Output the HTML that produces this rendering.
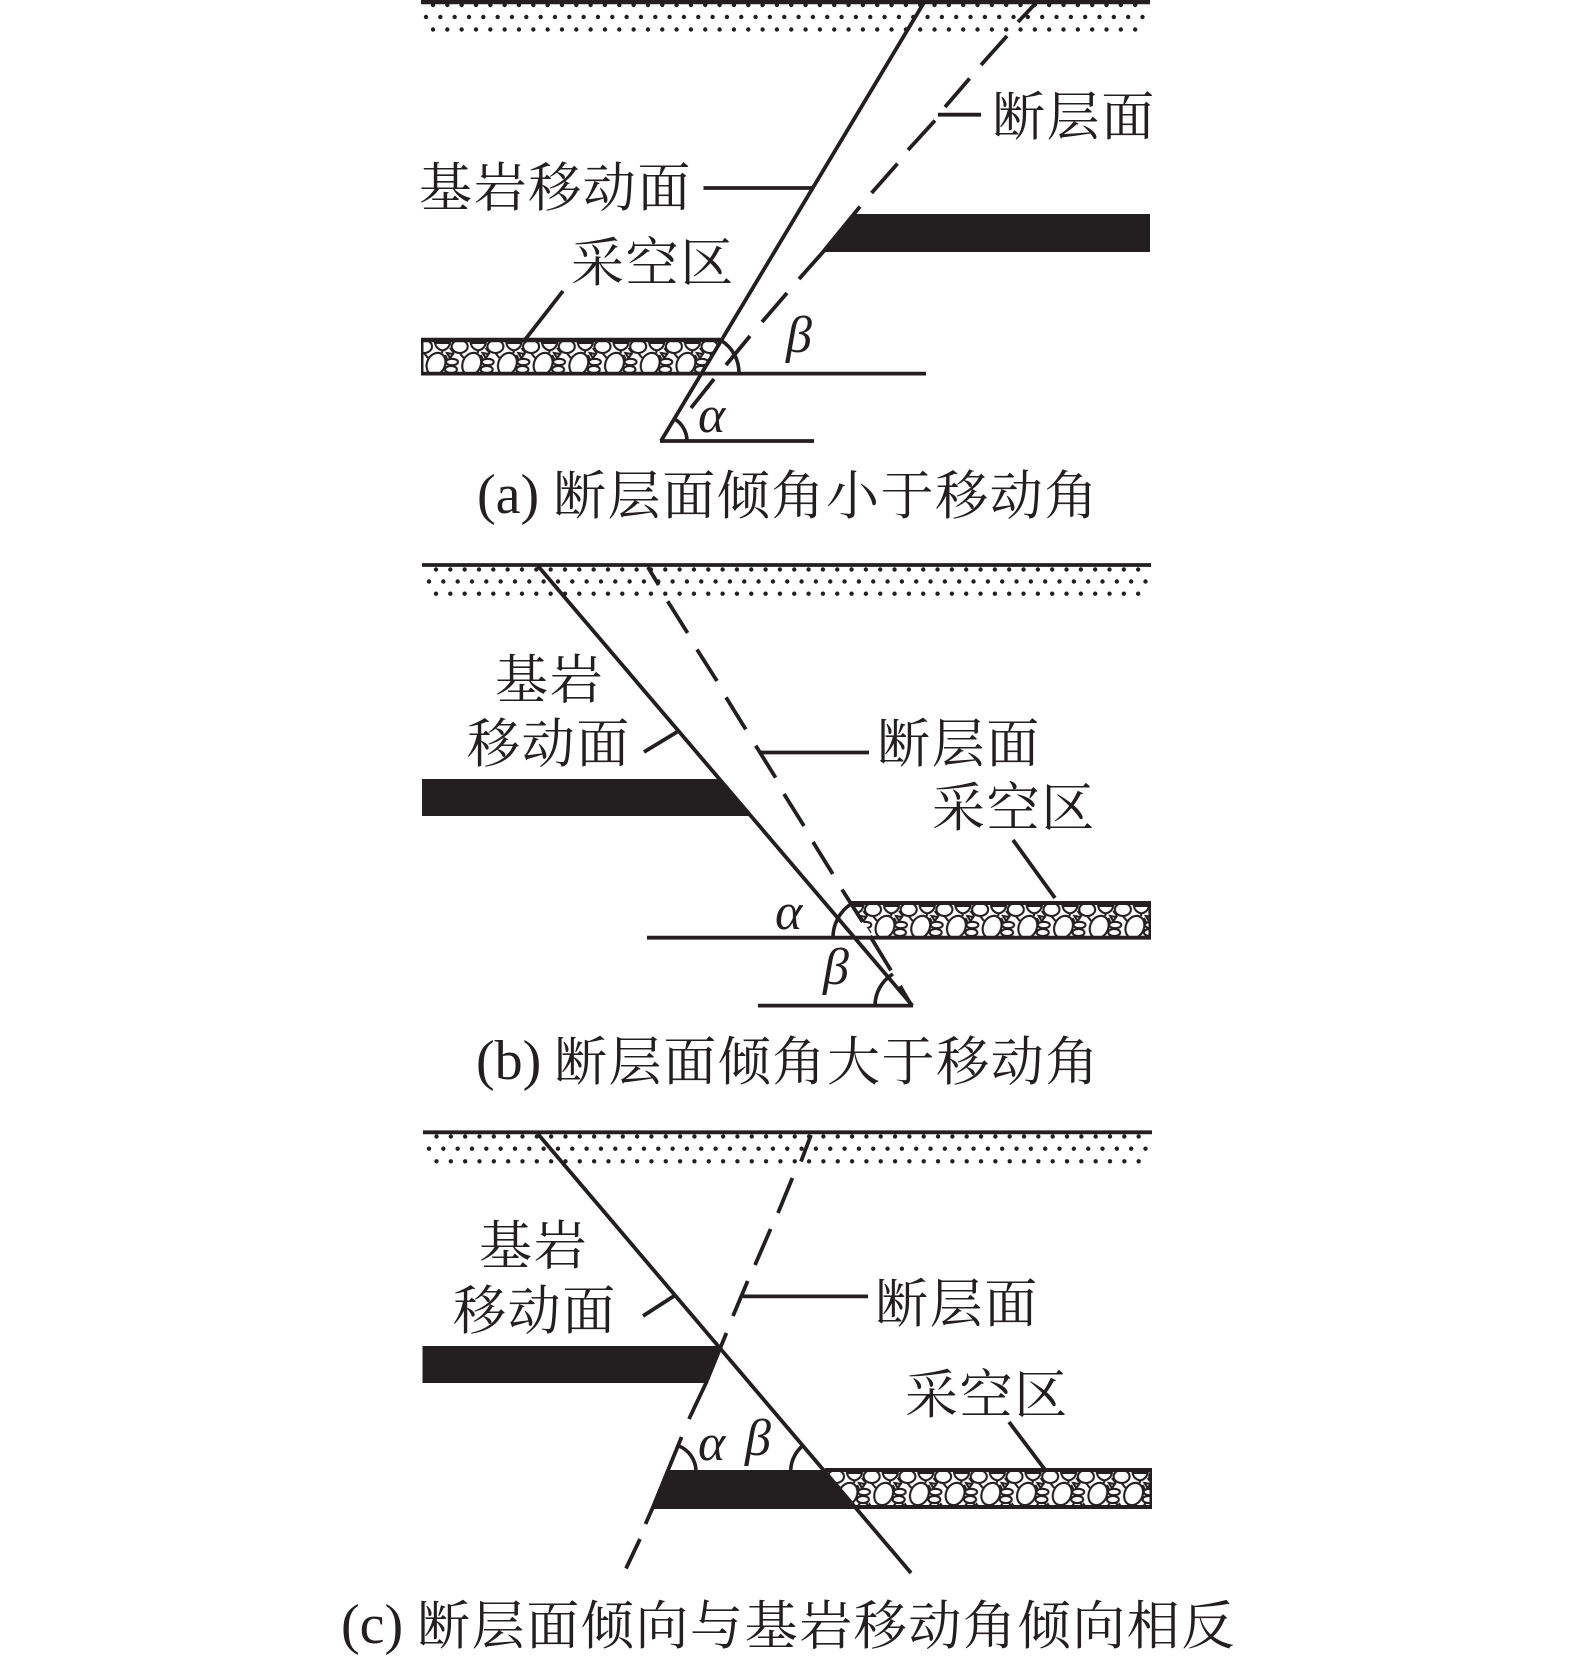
<!DOCTYPE html>
<html><head><meta charset="utf-8">
<style>
html,body{margin:0;padding:0;background:#fff}
svg{display:block}
.t{font-family:"Liberation Serif","Noto Serif CJK SC",serif;font-size:53px;letter-spacing:1.6px;fill:#231f20}
.l{font-family:"Liberation Serif",serif;font-size:56px;fill:#231f20}
.g{font-family:"Liberation Serif",serif;font-style:italic;font-size:52px;fill:#231f20}
.s{stroke:#231f20;stroke-width:3.8;fill:none}
.d{stroke:#231f20;stroke-width:4.4;stroke-linecap:round;stroke-dasharray:0 14.33;fill:none}
.a{stroke:#231f20;stroke-width:3.6;fill:none}
.b{fill:#231f20}
</style></head><body>
<svg width="1575" height="1662" viewBox="0 0 1575 1662" xmlns="http://www.w3.org/2000/svg">
<defs>
<pattern id="g" width="35.7" height="40" patternUnits="userSpaceOnUse">
<rect width="35.7" height="40" fill="#fff"/>
<g fill="none" stroke="#231f20" stroke-width="2.1">
<path d="M14 3 H29 Q28 9 21.5 10.5 Q15 9 14 3Z"/>
<ellipse cx="3" cy="6.5" rx="8" ry="6.5"/>
<ellipse cx="38.7" cy="6.5" rx="8" ry="6.5"/>
<ellipse cx="15" cy="24" rx="9" ry="11.5" transform="rotate(24 15 24)"/>
<ellipse cx="50.7" cy="24" rx="9" ry="11.5" transform="rotate(24 50.7 24)"/>
<path d="M21.5 10.5 L21 13 M3 13 L7 18 M29 8 L33 13"/>
<path d="M26 13 L32 14 L29 18 Z"/>
<ellipse cx="31" cy="22" rx="6" ry="3.2" />
<ellipse cx="-4.7" cy="22" rx="6" ry="3.2" />
<ellipse cx="30" cy="29.5" rx="6" ry="3.6"/>
<ellipse cx="-5.7" cy="29.5" rx="6" ry="3.6"/>
<path d="M24 15 L26 19 M27 33 L25 36 M33 33 L35.7 36 M0 33 L2 36"/>
</g>
</pattern>
</defs>

<!-- PANEL A -->
<line class="s" x1="421" y1="2" x2="1150" y2="2" style="stroke-width:4.4"/>
<line class="d" x1="433" y1="5" x2="1137" y2="5"/>
<line class="d" x1="426" y1="17" x2="1145" y2="17"/>
<line class="d" x1="433" y1="29.5" x2="1137" y2="29.5"/>
<g transform="translate(421,340)"><polygon points="0,0 301,0 280,34 0,34" fill="url(#g)"/></g>
<rect x="421" y="340" width="2.5" height="33" class="b"/>
<line class="s" x1="421" y1="340" x2="722" y2="340" style="stroke-width:4.4"/>
<line class="s" x1="421" y1="373.6" x2="926" y2="373.6" style="stroke-width:3.8"/>
<polygon class="b" points="855,214 1150,214 1150,252 823,252"/>
<line class="s" x1="925.5" y1="0" x2="661" y2="441"/>
<line class="s" x1="660" y1="441" x2="814" y2="441"/>
<g class="s">
<path d="M1036 3L1018 22M1007 36L981 65M969.6 78.5L945 107M935 120.5L908 150M897.5 163.6L871.6 193M860 206.6L823 252M823 252L799 279M787 293L762 322M750 336L726 365M714 379L691 408"/>
<line x1="938" y1="114.7" x2="981" y2="114.7"/>
<line x1="703.5" y1="188" x2="812" y2="188"/>
<line x1="563" y1="291" x2="524" y2="341"/>
</g>
<path class="a" d="M722 341 A38 38 0 0 1 739 373"/>
<path class="a" d="M674 418.6 A26 26 0 0 1 687 441"/>
<text class="g" x="786" y="352">β</text>
<text class="g" x="698" y="432">α</text>
<text class="t" x="419" y="206">基岩移动面</text>
<text class="t" x="992" y="135">断层面</text>
<text class="t" x="571" y="281">采空区</text>
<text class="l" x="477" y="513">(a)</text>
<text class="t" x="553" y="514">断层面倾角小于移动角</text>

<!-- PANEL B -->
<line class="s" x1="422" y1="565" x2="1151" y2="565"/>
<line class="d" x1="436" y1="569.5" x2="1140" y2="569.5"/>
<line class="d" x1="429" y1="581.5" x2="1147" y2="581.5"/>
<line class="d" x1="436" y1="593.7" x2="1140" y2="593.7"/>
<g transform="translate(834.3,903)"><polygon points="15.7,0 316.7,0 316.7,35 39.7,35" fill="url(#g)"/></g>
<rect x="1148.5" y="903" width="2.5" height="35" class="b"/>
<line class="s" x1="850" y1="903" x2="1151" y2="903" style="stroke-width:4"/>
<line class="s" x1="647" y1="937.7" x2="1151" y2="937.7"/>
<polygon class="b" points="422,779 719,779 751,816 422,816"/>
<line class="s" x1="538" y1="566" x2="912.4" y2="1005.6"/>
<line class="s" x1="758" y1="1005.6" x2="913" y2="1005.6"/>
<g class="s">
<path d="M647.8 567L658.7 585M667.7 601.3L687.6 633M697 649.5L717 681M726 697.4L745.8 729.4M755.7 745.6L775.6 777.6M784 794L804 826M813 842L832.8 874M842 889.5L862.7 922M870 936L891 970.5M900 986L910 1003"/>
<line x1="760.7" y1="752.5" x2="869" y2="752.5"/>
<line x1="644" y1="752" x2="677" y2="732"/>
<line x1="1013" y1="840" x2="1055" y2="898"/>
</g>
<path class="a" d="M851 904 A40 40 0 0 0 833 937.7"/>
<path class="a" d="M893 974 A37 37 0 0 0 875 1005.6"/>
<text class="g" x="775" y="929">α</text>
<text class="g" x="823" y="984">β</text>
<text class="t" x="495" y="698">基岩</text>
<text class="t" x="467" y="762">移动面</text>
<text class="t" x="877" y="762">断层面</text>
<text class="t" x="932" y="826">采空区</text>
<text class="l" x="476" y="1079">(b)</text>
<text class="t" x="554" y="1080">断层面倾角大于移动角</text>

<!-- PANEL C -->
<line class="s" x1="423" y1="1132.3" x2="1152" y2="1132.3"/>
<line class="d" x1="436.5" y1="1136.5" x2="1140" y2="1136.5"/>
<line class="d" x1="429" y1="1148.7" x2="1147" y2="1148.7"/>
<line class="d" x1="436.5" y1="1161.3" x2="1140" y2="1161.3"/>
<g transform="translate(833,1470)"><polygon points="-8,0 319,0 319,37 21,37" fill="url(#g)"/></g>
<rect x="1149.5" y="1470" width="2.5" height="37" class="b"/>
<line class="s" x1="825" y1="1470" x2="1152" y2="1470" style="stroke-width:4"/>
<line class="s" x1="653" y1="1507" x2="1152" y2="1507" style="stroke-width:4"/>
<polygon class="b" points="422.5,1346 720,1346 706,1383 422.5,1383"/>
<polygon class="b" points="667,1470 825,1470 856,1507 653,1507"/>
<line class="s" x1="538" y1="1134" x2="911" y2="1573"/>
<g class="s">
<path d="M811 1135L801 1161.6M792.4 1178L778 1213M770.6 1229L755 1265M747.7 1281L733 1316M726.4 1333L706 1383L689 1419M681.6 1437L653 1507L645.5 1524M640 1539L626 1568.5"/>
<line x1="743" y1="1296.4" x2="868" y2="1296.4"/>
<line x1="643" y1="1316" x2="674" y2="1296"/>
<line x1="1009" y1="1422" x2="1046" y2="1471"/>
</g>
<path class="a" d="M679 1446 A28 28 0 0 1 696 1470"/>
<path class="a" d="M790.7 1470 A34 34 0 0 1 803.6 1444.9"/>
<text class="g" x="698" y="1460">α</text>
<text class="g" x="745" y="1455">β</text>
<text class="t" x="479" y="1264">基岩</text>
<text class="t" x="453" y="1329">移动面</text>
<text class="t" x="875" y="1322">断层面</text>
<text class="t" x="905" y="1413">采空区</text>
<text class="l" x="341" y="1643">(c)</text>
<text class="t" x="417" y="1644">断层面倾向与基岩移动角倾向相反</text>
</svg>
</body></html>
